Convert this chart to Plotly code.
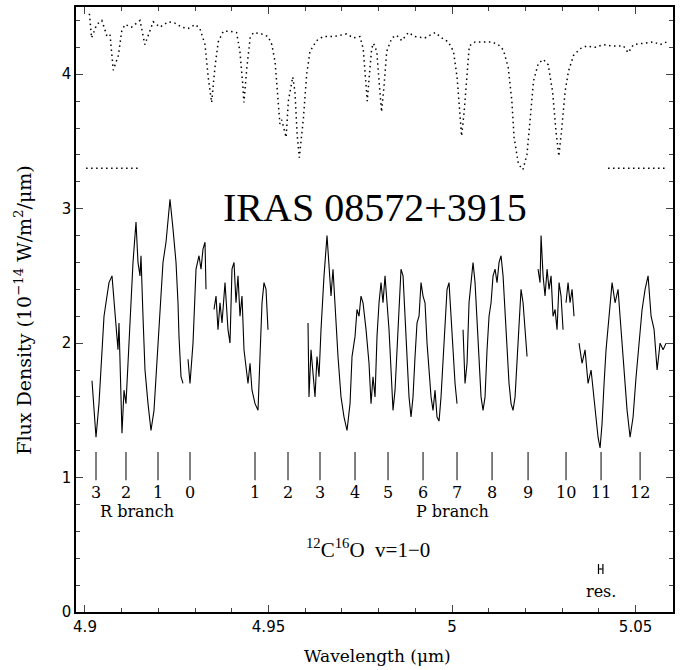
import plotly.graph_objects as go

# --- telluric transmission (dotted, arbitrary scale) ---
atm_wl = [4.9012, 4.9018, 4.9032, 4.9046, 4.9059, 4.9068, 4.9077, 4.9091, 4.9100, 4.9109,
          4.9127, 4.9150, 4.9163, 4.9177, 4.9186, 4.9204, 4.9227, 4.9245, 4.9263, 4.9281,
          4.9300, 4.9313, 4.9327, 4.9336, 4.9345, 4.9354, 4.9363, 4.9377, 4.9395, 4.9413,
          4.9422, 4.9430, 4.9433, 4.9441, 4.9450, 4.9459, 4.9481, 4.9499, 4.9509, 4.9518,
          4.9524, 4.9531, 4.9536, 4.9540, 4.9548, 4.9554, 4.9566, 4.9572, 4.9578, 4.9584,
          4.9595, 4.9604, 4.9613, 4.9631, 4.9649, 4.9677, 4.9713, 4.9731, 4.9749, 4.9758,
          4.9763, 4.9769, 4.9775, 4.9781, 4.9786, 4.9795, 4.9802, 4.9808, 4.9815, 4.9822,
          4.9836, 4.9849, 4.9863, 4.9881, 4.9899, 4.9926, 4.9954, 4.9972, 4.9990, 5.0004,
          5.0014, 5.0022, 5.0026, 5.0033, 5.0040, 5.0047, 5.0063, 5.0085, 5.0108, 5.0126,
          5.0140, 5.0153, 5.0163, 5.0169, 5.0181, 5.0193, 5.0204, 5.0213, 5.0222, 5.0235,
          5.0249, 5.0262, 5.0274, 5.0283, 5.0291, 5.0299, 5.0308, 5.0317, 5.0331, 5.0349,
          5.0367, 5.0390, 5.0412, 5.0435, 5.0467, 5.0480, 5.0494, 5.0521, 5.0549, 5.0567,
          5.0585]
atm_flux = [4.45, 4.27, 4.37, 4.40, 4.29, 4.30, 4.03, 4.14, 4.32, 4.37,
            4.35, 4.40, 4.22, 4.33, 4.39, 4.35, 4.39, 4.38, 4.35, 4.34,
            4.37, 4.34, 4.22, 3.97, 3.79, 4.05, 4.24, 4.32, 4.32, 4.31,
            4.17, 3.92, 3.79, 4.05, 4.27, 4.31, 4.30, 4.28, 4.22, 4.09,
            3.85, 3.63, 3.66, 3.61, 3.53, 3.80, 3.98, 3.87, 3.55, 3.38,
            3.67, 4.00, 4.17, 4.25, 4.28, 4.28, 4.30, 4.27, 4.28, 4.19,
            4.01, 3.80, 4.00, 4.19, 4.23, 4.17, 3.92, 3.72, 3.92, 4.17,
            4.27, 4.29, 4.25, 4.31, 4.28, 4.27, 4.31, 4.27, 4.24, 4.17,
            3.97, 3.72, 3.54, 3.72, 4.00, 4.21, 4.24, 4.24, 4.24, 4.22,
            4.18, 4.05, 3.80, 3.53, 3.33, 3.29, 3.40, 3.67, 3.95, 4.08,
            4.11, 4.07, 3.87, 3.58, 3.39, 3.60, 3.87, 4.02, 4.14, 4.19,
            4.21, 4.20, 4.22, 4.21, 4.21, 4.16, 4.22, 4.23, 4.24, 4.22,
            4.24]

# zero-transmission reference level (dotted stubs at both ends)
zero_wl = [4.9003, 4.9152, None, 5.0425, 5.0581]
zero_flux = [3.30, 3.30, None, 3.30, 3.30]

# --- IRAS 08572+3915 spectrum (None = gap) ---
spec_wl = [4.90191, 4.90300, 4.90381, 4.90463, 4.90518, 4.90572, 4.90654, 4.90736, 4.90845, 4.90899,
           4.90926, 4.90981, 4.91008, 4.91063, 4.91117, 4.91172, 4.91253, 4.91308, 4.91390, 4.91444,
           4.91499, 4.91526, 4.91580, 4.91635, 4.91717, 4.91798, 4.91880, 4.91962, 4.92044, 4.92125,
           4.92207, 4.92316, 4.92398, 4.92480, 4.92534, 4.92561, 4.92616, 4.92670, None,
           4.92807, 4.92861, 4.92943, 4.93025, 4.93106, 4.93161, 4.93215, 4.93270, 4.93297, None,
           4.93515, 4.93570, 4.93624, 4.93678, 4.93733, 4.93815, 4.93896, 4.93951, 4.94005, 4.94060,
           4.94114, 4.94169, 4.94223, 4.94278, 4.94332, 4.94387, 4.94441, 4.94496, 4.94550, 4.94632,
           4.94714, 4.94768, 4.94823, 4.94877, 4.94932, 4.94986, None,
           4.96076, 4.96103, 4.96158, 4.96212, 4.96267, 4.96321, 4.96376, 4.96430, 4.96512, 4.96594,
           4.96648, 4.96703, 4.96757, 4.96812, 4.96893, 4.96975, 4.97057, 4.97139, 4.97221, 4.97275,
           4.97357, 4.97411, 4.97466, 4.97520, 4.97575, 4.97657, 4.97738, 4.97793, 4.97847, 4.97902,
           4.97956, 4.98011, 4.98065, 4.98120, 4.98174, 4.98229, 4.98283, 4.98338, 4.98392, 4.98447,
           4.98501, 4.98556, 4.98610, 4.98665, 4.98719, 4.98774, 4.98828, 4.98883, 4.98937, 4.98992,
           4.99046, 4.99101, 4.99155, 4.99210, 4.99264, 4.99319, 4.99373, 4.99428, 4.99482, 4.99537,
           4.99591, 4.99646, 4.99700, 4.99755, 4.99809, 4.99864, 4.99918, 4.99973, 5.00027, 5.00082,
           5.00136, None,
           5.00300, 5.00354, 5.00409, 5.00463, 5.00518, 5.00572, 5.00627, 5.00681, 5.00736, 5.00790,
           5.00845, 5.00899, 5.00954, 5.01008, 5.01063, 5.01117, 5.01172, 5.01226, 5.01281, 5.01335,
           5.01390, 5.01444, 5.01499, 5.01553, 5.01608, 5.01662, 5.01717, 5.01771, 5.01826, 5.01880,
           5.01935, 5.01989, 5.02044, None,
           5.02343, 5.02398, 5.02425, 5.02480, 5.02534, 5.02589, 5.02643, 5.02698, 5.02752, 5.02807,
           5.02861, 5.02916, 5.02970, 5.03025, None,
           5.03106, 5.03161, 5.03215, 5.03270, 5.03324, None,
           5.03460, 5.03542, 5.03624, 5.03706, 5.03788, 5.03869, 5.03924, 5.03978, 5.04033, 5.04087,
           5.04142, 5.04196, 5.04278, 5.04360, 5.04442, 5.04523, 5.04605, 5.04687, 5.04769, 5.04851,
           5.04932, 5.05014, 5.05096, 5.05178, 5.05259, 5.05341, 5.05423, 5.05505, 5.05587, 5.05668,
           5.05750, 5.05832]
spec_flux = [1.72, 1.30, 1.55, 1.95, 2.20, 2.30, 2.45, 2.50, 2.10, 1.95,
             2.15, 1.45, 1.33, 1.65, 1.55, 1.85, 2.30, 2.60, 2.90, 2.60,
             2.50, 2.65, 2.20, 1.80, 1.55, 1.35, 1.50, 1.90, 2.30, 2.60,
             2.75, 3.07, 2.85, 2.60, 2.30, 2.05, 1.75, 1.70, None,
             1.88, 1.70, 2.00, 2.55, 2.65, 2.55, 2.70, 2.75, 2.40, None,
             2.25, 2.35, 2.10, 2.30, 2.15, 2.45, 2.10, 2.00, 2.55, 2.60,
             2.30, 2.50, 2.20, 2.35, 1.95, 1.80, 1.70, 1.85, 1.65, 1.55,
             1.50, 1.90, 2.30, 2.45, 2.40, 2.10, None,
             2.15, 1.60, 1.95, 1.80, 1.60, 1.90, 1.75, 2.10, 2.50, 2.80,
             2.60, 2.35, 2.55, 2.25, 1.90, 1.60, 1.45, 1.35, 1.55, 1.90,
             2.05, 2.25, 2.20, 2.35, 2.30, 2.10, 1.85, 1.55, 1.75, 1.60,
             2.05, 2.30, 2.45, 2.30, 2.50, 2.30, 2.10, 1.80, 1.50, 1.65,
             1.95, 2.35, 2.55, 2.50, 2.20, 1.85, 1.60, 1.45, 1.60, 1.90,
             2.15, 2.20, 2.45, 2.35, 2.30, 2.00, 1.80, 1.60, 1.50, 1.65,
             1.45, 1.42, 1.60, 1.90, 2.20, 2.40, 2.45, 2.20, 1.90, 1.70,
             1.55, None,
             2.10, 1.70, 1.85, 2.30, 2.45, 2.60, 2.45, 2.20, 1.90, 1.60,
             1.50, 1.60, 1.95, 2.20, 2.30, 2.50, 2.55, 2.45, 2.60, 2.65,
             2.50, 2.20, 1.90, 1.70, 1.55, 1.50, 1.60, 1.90, 2.20, 2.40,
             2.30, 2.10, 1.90, None,
             2.55, 2.45, 2.80, 2.50, 2.35, 2.55, 2.40, 2.50, 2.20, 2.25,
             2.10, 2.45, 2.35, 2.10, None,
             2.30, 2.45, 2.30, 2.40, 2.20, None,
             2.00, 1.85, 1.95, 1.70, 1.80, 1.60, 1.45, 1.30, 1.22, 1.40,
             1.70, 1.95, 2.20, 2.45, 2.30, 2.40, 2.10, 1.80, 1.50, 1.30,
             1.45, 1.75, 2.00, 2.25, 2.40, 2.50, 2.20, 2.10, 1.80, 2.00,
             1.95, 2.00]

# --- CO v=1-0 line positions ---
r_wl = [4.90300, 4.91117, 4.91989, 4.92861]
r_lab = ["3", "2", "1", "0"]
p_wl = [4.94632, 4.95531, 4.96403, 4.97357, 4.98256, 4.99210,
        5.00136, 5.01090, 5.02071, 5.03106, 5.04060, 5.05123]
p_lab = ["1", "2", "3", "4", "5", "6", "7", "8", "9", "10", "11", "12"]

# resolution element
res_wl = [5.0405]
res_half = [0.0006]
res_y = [0.32]

xticks = [4.9, 4.95, 5.0, 5.05]
xtick_text = ["4.9", "4.95", "5", "5.05"]

fig = go.Figure()

fig.add_trace(go.Scatter(x=atm_wl, y=atm_flux, mode="lines",
                         line=dict(color="black", width=1.5, dash="1.5px,3.5px")))
fig.add_trace(go.Scatter(x=zero_wl, y=zero_flux, mode="lines",
                         line=dict(color="black", width=1.5, dash="1.5px,3.5px")))
fig.add_trace(go.Scatter(x=spec_wl, y=spec_flux, mode="lines",
                         line=dict(color="black", width=1.1)))

# line markers: vertical bars from 0.98 to 1.19
mark_x, mark_y = [], []
for w in r_wl + p_wl:
    mark_x += [w, w, None]
    mark_y += [0.98, 1.19, None]
fig.add_trace(go.Scatter(x=mark_x, y=mark_y, mode="lines",
                         line=dict(color="black", width=1)))

fig.add_trace(go.Scatter(x=res_wl, y=res_y, mode="markers",
                         marker=dict(size=1, color="black"),
                         error_x=dict(type="data", array=res_half, color="black",
                                      thickness=1.2, width=5)))

lab_font = dict(family="DejaVu Serif", size=16, color="black")
for w, t in zip(r_wl + p_wl, r_lab + p_lab):
    fig.add_annotation(x=w, y=0.89, text=t, showarrow=False, font=lab_font)

fig.add_annotation(x=4.9142, y=0.745, text="R branch", showarrow=False, font=lab_font)
fig.add_annotation(x=5.0, y=0.745, text="P branch", showarrow=False, font=lab_font)
fig.add_annotation(x=4.977, y=0.475, text="<sup>12</sup>C<sup>16</sup>O  v=1\u22120",
                   showarrow=False,
                   font=dict(family="Liberation Serif", size=21, color="black"))
fig.add_annotation(x=5.0407, y=0.155, text="res.", showarrow=False, font=lab_font)
fig.add_annotation(x=4.979, y=3.01, text="IRAS 08572+3915", showarrow=False,
                   font=dict(family="Liberation Serif", size=40, color="black"))

# axis titles
fig.add_annotation(xref="paper", yref="paper", x=0.505, y=-0.072,
                   xanchor="center", yanchor="middle",
                   text="Wavelength (\u03bcm)", showarrow=False,
                   font=dict(family="DejaVu Serif", size=17, color="black"))
fig.add_annotation(xref="paper", yref="paper", x=-0.09, y=0.5, textangle=-90,
                   xanchor="center", yanchor="middle",
                   text="Flux Density (10<sup>\u221214</sup> W/m<sup>2</sup>/\u03bcm)",
                   showarrow=False,
                   font=dict(family="DejaVu Serif", size=19, color="black"))

tickfont = dict(family="DejaVu Sans", size=15, color="black")
fig.update_xaxes(range=[4.89755, 5.0602], tickvals=xticks, ticktext=xtick_text,
                 ticks="inside", ticklen=7, tickwidth=1, tickcolor="#444",
                 minor=dict(dtick=0.01, tick0=4.9, ticks="inside", ticklen=4,
                            tickcolor="#444"),
                 showline=True, linecolor="black", linewidth=1.5, mirror="ticks",
                 showgrid=False, zeroline=False, tickfont=tickfont)
fig.update_yaxes(range=[0, 4.5], dtick=1, tick0=0,
                 ticks="inside", ticklen=7, tickwidth=1, tickcolor="#444",
                 minor=dict(dtick=0.2, ticks="inside", ticklen=4, tickcolor="#444"),
                 showline=True, linecolor="black", linewidth=1.5, mirror="ticks",
                 showgrid=False, zeroline=False, tickfont=tickfont)

fig.update_layout(width=680, height=670, showlegend=False,
                  paper_bgcolor="white", plot_bgcolor="white",
                  margin=dict(l=76, r=7, t=5, b=58))

# page body has a default 8px margin; drop it so the figure sits at the corner
fig.write_html("out.html", config={"displayModeBar": False},
               post_script="document.body.style.margin='0';")
